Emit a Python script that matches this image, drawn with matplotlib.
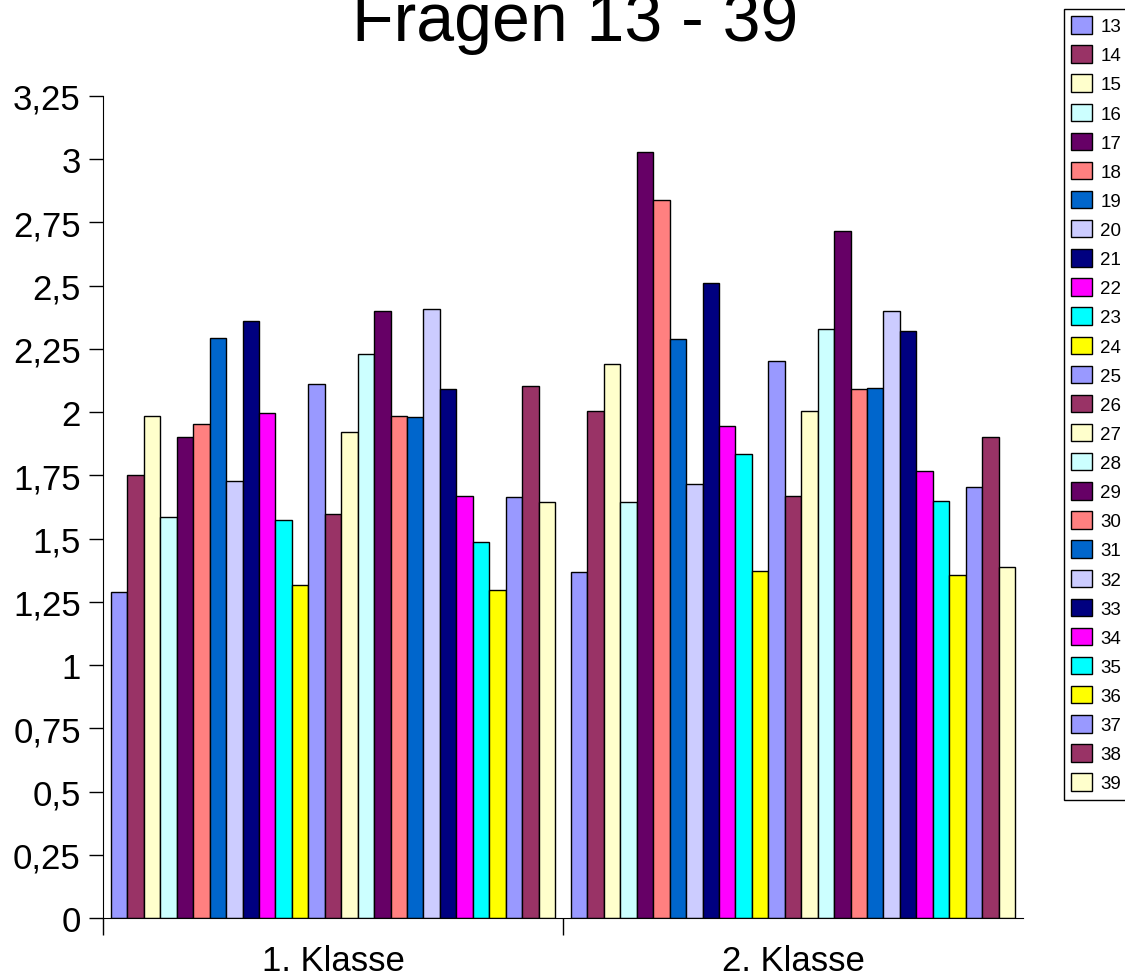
import numpy as np
import matplotlib
matplotlib.use("Agg")
import matplotlib.pyplot as plt
from matplotlib.patches import Patch

plt.rcParams['font.family'] = ['Liberation Sans', 'DejaVu Sans']

categories = ["1. Klasse", "2. Klasse"]
questions = [str(q) for q in range(13, 40)]

klasse_1 = [1.29, 1.75, 1.985, 1.585, 1.90, 1.952, 2.293, 1.729, 2.361, 1.998,
            1.572, 1.316, 2.110, 1.597, 1.920, 2.229, 2.399, 1.985, 1.980, 2.407,
            2.090, 1.670, 1.486, 1.296, 1.663, 2.104, 1.644]
klasse_2 = [1.367, 2.005, 2.189, 1.644, 3.030, 2.840, 2.288, 1.716, 2.512, 1.947,
            1.835, 1.373, 2.204, 1.670, 2.005, 2.328, 2.715, 2.090, 2.097, 2.399,
            2.321, 1.769, 1.650, 1.355, 1.703, 1.901, 1.387]

palette = ["#9999FF", "#993366", "#FFFFCC", "#CCFFFF", "#660066", "#FF8080",
           "#0066CC", "#CCCCFF", "#000080", "#FF00FF", "#00FFFF", "#FFFF00"]
colors = [palette[i % len(palette)] for i in range(len(questions))]

fig = plt.figure(figsize=(11.25, 9.78), dpi=100)
ax = fig.add_axes([103 / 1125, 1 - 919 / 978, 920 / 1125, 822 / 978])

n = len(questions)
w = 0.965 / n
x = np.arange(len(categories))
for i in range(n):
    vals = [klasse_1[i], klasse_2[i]]
    ax.bar(x - 0.965 / 2 + (i + 0.5) * w, vals, width=w, color=colors[i],
           edgecolor="black", linewidth=1.0)

ax.set_xlim(-0.5, 1.5)
ax.set_ylim(0, 3.25)
yt = np.arange(0, 3.26, 0.25)
ax.set_yticks(yt)
ax.set_yticklabels([("%g" % v).replace(".", ",") for v in yt], fontsize=25)
ax.tick_params(axis="y", direction="out", length=10, width=1, pad=6)

ax.set_xticks([-0.5, 0.5])
ax.set_xticklabels([])
ax.set_xticks(x, minor=True)
ax.set_xticklabels(categories, minor=True, fontsize=25)
ax.tick_params(axis="x", which="major", direction="out", length=12, width=1)
ax.tick_params(axis="x", which="minor", length=0, pad=19)

ax.spines["top"].set_visible(False)
ax.spines["right"].set_visible(False)

fig.text(0.511, 1 - 41 / 978, "Fragen 13 - 39", ha="center", va="baseline",
         fontsize=49)

handles = [Patch(facecolor=colors[i], edgecolor="black", linewidth=1.0)
           for i in range(n)]
leg = fig.legend(handles, questions, loc="upper left",
                 bbox_to_anchor=(1064 / 1125, 1 - 10 / 978), fontsize=13.5,
                 handlelength=1.1, handleheight=1.05, labelspacing=0.535,
                 handletextpad=0.45, borderpad=0.38, fancybox=False,
                 edgecolor="black", framealpha=1, borderaxespad=0)
leg.get_frame().set_linewidth(1.0)

fig.savefig("out.png", dpi=100)
